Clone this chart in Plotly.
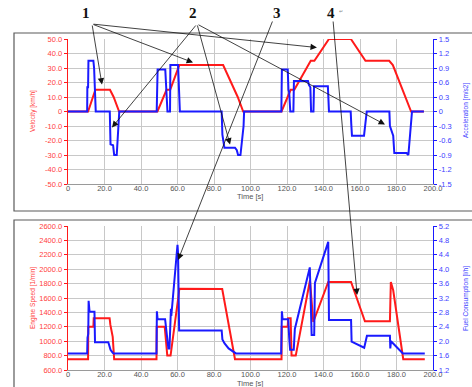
import plotly.graph_objects as go

W, H = 472, 387

# ---------------- data ----------------
# Top chart: vehicle velocity [km/h] and acceleration [m/s2]
vel_t = [0, 11, 15, 23, 25, 28, 49, 54, 56, 61, 85, 93, 96, 117, 122, 124, 133, 135, 143, 155, 163, 176, 178, 188, 195]
vel = [0, 0, 15, 15, 10, 0, 0, 15, 15, 32, 32, 10, 0, 0, 15, 15, 35, 35, 50, 50, 35, 35, 32, 0, 0]

acc_t = [0, 10.5, 10.6, 11.0, 11.2, 13.9, 14.3, 14.8, 15.2,
         22.9, 23.1, 23.3, 24.7, 25.3, 26.7, 27.3, 28.1,
         48.6, 48.8, 49.1, 53.3, 53.6, 54.2, 54.5,
         55.9, 56.1, 60.3, 60.6, 61.3,
         84.2, 84.6, 85.7, 91.5, 92.5, 93.2, 94.5, 95.5, 96.2, 96.5,
         116.9, 117.2, 120.4, 120.8, 121.2, 121.8, 123.5, 123.8, 131.5, 132.0, 132.8, 133.2,
         134.5, 134.8, 142.4, 143.0,
         154.9, 155.2, 155.6, 162.2, 163.0, 163.7,
         176.1, 176.4, 178.2, 178.8, 185.5, 186.5, 187.5, 188.5, 195.0]
acc = [0, 0, 0.5, 0.5, 1.05, 1.05, 0.9, 0.4, 0,
       0, -0.3, -0.68, -0.7, -0.9, -0.9, -0.45, 0,
       0, 0.84, 0.87, 0.87, 0.6, 0.3, 0,
       0, 0.96, 0.96, 0.5, 0,
       0, -0.48, -0.75, -0.75, -0.8, -0.9, -0.9, -0.5, -0.3, 0,
       0, 0.87, 0.87, 0.45, 0.4, 0, 0, 0.63, 0.63, 0.55, 0.5, 0,
       0, 0.52, 0.52, 0,
       0, -0.25, -0.5, -0.5, -0.25, 0,
       0, -0.3, -0.5, -0.86, -0.86, -0.9, -0.45, 0, 0]

# Bottom chart: engine speed [1/min] and fuel consumption [l/h]
eng_t = [0, 11.0, 11.1, 13.9, 14.1, 22.8, 23.2, 24.5, 25.3, 48.5,
         48.6, 53.0, 54.4, 56.2, 60.6, 61.0, 84.5, 88.5, 91.5, 117.0,
         117.1, 120.4, 120.6, 122.0, 122.5, 124.8, 132.6, 134.4, 142.6, 155.1,
         162.7, 176.4, 176.9, 178.2, 183.7, 195.5]
eng = [750, 750, 1200, 1200, 1320, 1320, 1230, 1060, 750, 750,
       1200, 1200, 800, 800, 1640, 1730, 1725, 1170, 750, 750,
       1200, 1200, 1320, 1320, 800, 800, 1846, 1267, 1822, 1822,
       1276, 1276, 1822, 1707, 750, 750]

fuel_t = [0, 10.5, 10.7, 11.1, 11.3, 11.8, 14.5, 14.8, 22.1, 22.6,
          23.3, 24.5, 25.0, 48.5, 48.7, 49.1, 53.2, 55.0, 55.6, 56.4,
          56.6, 60.0, 60.3, 60.9, 84.2, 84.6, 85.8, 88.0, 91.0, 92.0,
          116.8, 117.2, 117.6, 120.7, 121.2, 121.7, 123.7, 124.3, 132.5, 133.5,
          134.9, 135.3, 142.6, 143.0, 155.1, 155.4, 162.3, 163.8, 176.4, 176.6,
          177.0, 182.5, 183.5, 195.5]
fuel = [1.66, 1.66, 2.1, 2.2, 3.12, 2.82, 2.82, 1.97, 1.97, 1.85,
        1.76, 1.68, 1.66, 1.66, 2.83, 2.61, 2.61, 1.80, 1.80, 2.9,
        2.7, 4.68, 4.45, 2.30, 2.30, 2.05, 1.94, 1.80, 1.70, 1.66,
        1.66, 2.83, 2.61, 2.61, 2.1, 1.76, 1.76, 2.34, 4.05, 2.17,
        2.17, 3.62, 4.76, 2.59, 2.59, 1.99, 1.82, 2.15, 2.15, 1.80,
        2.00, 1.72, 1.66, 1.66]

# Tick labels
x_ticks = [0, 20, 40, 60, 80, 100, 120, 140, 160, 180, 200]
x_labels = ["0", "20.0", "40.0", "60.0", "80.0", "100.0", "120.0", "140.0", "160.0", "180.0", "200.0"]
vel_ticks = [50, 40, 30, 20, 10, 0, -10, -20, -30, -40, -50]
vel_labels = ["50.0", "40.0", "30.0", "20.0", "10.0", "0", "-10.0", "-20.0", "-30.0", "-40.0", "-50.0"]
acc_ticks = [1.5, 1.2, 0.9, 0.6, 0.3, 0, -0.3, -0.6, -0.9, -1.2, -1.5]
acc_labels = ["1.5", "1.2", "0.9", "0.6", "0.3", "0", "-0.3", "-0.6", "-0.9", "-1.2", "-1.5"]
eng_ticks = [2600, 2400, 2200, 2000, 1800, 1600, 1400, 1200, 1000, 800, 600]
eng_labels = ["2600.0", "2400.0", "2200.0", "2000.0", "1800.0", "1600.0", "1400.0", "1200.0", "1000.0", "800.0", "600.0"]
fuel_ticks = [5.2, 4.8, 4.4, 4.0, 3.6, 3.2, 2.8, 2.4, 2.0, 1.6, 1.2]
fuel_labels = ["5.2", "4.8", "4.4", "4.0", "3.6", "3.2", "2.8", "2.4", "2.0", "1.6", "1.2"]

RED = "#ff1a1a"
BLUE = "#1a1aff"
RED_T = "#ff4040"
BLUE_T = "#4040ff"
GRID = "#c8c8c8"
FONT = "Liberation Sans"


def px(x):
    return x / W


def py(y):
    return 1 - y / H


fig = go.Figure()
fig.add_trace(go.Scatter(x=vel_t, y=vel, xaxis="x", yaxis="y", mode="lines",
                         line=dict(color=RED, width=2)))
fig.add_trace(go.Scatter(x=acc_t, y=acc, xaxis="x", yaxis="y3", mode="lines",
                         line=dict(color=BLUE, width=2)))
fig.add_trace(go.Scatter(x=eng_t, y=eng, xaxis="x2", yaxis="y2", mode="lines",
                         line=dict(color=RED, width=2)))
fig.add_trace(go.Scatter(x=fuel_t, y=fuel, xaxis="x2", yaxis="y4", mode="lines",
                         line=dict(color=BLUE, width=2)))

xdom = [px(68), px(433)]
top_dom = [py(184), py(39)]
bot_dom = [py(370), py(226)]


def xaxis(anchor):
    return dict(domain=xdom, range=[0, 200], anchor=anchor, tickmode="array",
                tickvals=x_ticks, ticktext=x_labels, showgrid=True, gridcolor=GRID,
                gridwidth=1, showline=True, linecolor="#9a9a9a", linewidth=1,
                ticks="", ticklen=0, ticklabelstandoff=-3, zeroline=False,
                tickfont=dict(family=FONT, size=7.5, color="#555"),
                automargin=False, fixedrange=True)


def yleft(dom, rng, tv, tt):
    return dict(domain=dom, range=rng, anchor=None, tickmode="array", tickvals=tv,
                ticktext=tt, showgrid=True, gridcolor=GRID, gridwidth=1, showline=True,
                linecolor=RED, linewidth=1.3, ticks="outside", ticklen=3, tickcolor=RED,
                tickwidth=1, zeroline=False, tickfont=dict(family=FONT, size=7.5, color=RED_T),
                automargin=False, fixedrange=True)


def yright(over, rng, tv, tt, anchor):
    return dict(overlaying=over, side="right", anchor=anchor, range=rng, tickmode="array",
                tickvals=tv, ticktext=tt, showgrid=False, showline=True, linecolor=BLUE,
                linewidth=1.3, ticks="outside", ticklen=3, tickcolor=BLUE, tickwidth=1,
                zeroline=False, tickfont=dict(family=FONT, size=7.5, color=BLUE_T),
                automargin=False, fixedrange=True)


ya = yleft(top_dom, [-50, 50], vel_ticks, vel_labels)
ya["anchor"] = "x"
yb = yleft(bot_dom, [600, 2600], eng_ticks, eng_labels)
yb["anchor"] = "x2"

annotations = []
# axis titles
titles = [
    ("Velocity [km/h]", 33, 111, RED_T),
    ("Acceleration [m/s2]", 466, 111, BLUE_T),
    ("Engine Speed [1/min]", 33, 298, RED_T),
    ("Fuel Consumption [l/h]", 466, 299, BLUE_T),
]
for txt, x, y, c in titles:
    annotations.append(dict(text=txt, x=px(x), y=py(y), xref="paper", yref="paper",
                            showarrow=False, textangle=-90, xanchor="center", yanchor="middle",
                            font=dict(family=FONT, size=6.5, color=c)))
for y in (196.5, 383.5):
    annotations.append(dict(text="Time [s]", x=px(250), y=py(y), xref="paper", yref="paper",
                            showarrow=False, xanchor="center", yanchor="middle",
                            font=dict(family=FONT, size=7.5, color="#555")))

# numbered callouts
for lab, x in (("1", 86), ("2", 193), ("3", 277), ("4", 331)):
    annotations.append(dict(text="<b>%s</b>" % lab, x=px(x), y=py(13.5), xref="paper",
                            yref="paper", showarrow=False, xanchor="center", yanchor="middle",
                            font=dict(family="Liberation Serif", size=15, color="#111")))
annotations.append(dict(text="\u21b5", x=px(341), y=py(11), xref="paper", yref="paper",
                        showarrow=False, xanchor="center", yanchor="middle",
                        font=dict(family="DejaVu Sans", size=5, color="#888")))

# arrows: (head x, head y, xref, yref, tail px, tail py)
arrows = [
    (18.6, 18.6, "x", "y", 92, 24),
    (68.5, 33.8, "x", "y", 92, 24),
    (136.4, 44.1, "x", "y", 92, 24),
    (24.1, -11.0, "x", "y", 197, 24),
    (88.8, -22.8, "x", "y", 197, 24),
    (173.7, -9.0, "x", "y", 197, 24),
    (60.3, 2128, "x2", "y2", 273, 20),
    (158.4, 1642, "x2", "y2", 333, 20),
]
for hx, hy, xr, yr, tx, ty in arrows:
    hpx = 68 + hx * 365 / 200
    if yr == "y":
        hpy = 39 + (50 - hy) * 145 / 100
    else:
        hpy = 226 + (2600 - hy) * 144 / 2000
    annotations.append(dict(text="", x=hx, y=hy, xref=xr, yref=yr, ax=tx - hpx, ay=ty - hpy,
                            axref="pixel", ayref="pixel", showarrow=True, arrowhead=2,
                            arrowsize=1.6, arrowwidth=0.8, arrowcolor="#111", standoff=0,
                            startstandoff=0))

shapes = [
    dict(type="rect", xref="paper", yref="paper", x0=px(14), x1=px(476), y0=py(211), y1=py(33),
         line=dict(color="#5a5a5a", width=1.2), layer="below"),
    dict(type="rect", xref="paper", yref="paper", x0=px(14), x1=px(476), y0=py(392), y1=py(220),
         line=dict(color="#5a5a5a", width=1.2), layer="below"),
]

fig.update_layout(
    template="none",
    width=W, height=H,
    margin=dict(l=0, r=0, t=0, b=0, pad=0),
    paper_bgcolor="white", plot_bgcolor="white",
    showlegend=False,
    hovermode=False,
    xaxis=xaxis("y"),
    xaxis2=xaxis("y2"),
    yaxis=ya,
    yaxis2=yb,
    yaxis3=yright("y", [-1.5, 1.5], acc_ticks, acc_labels, "x"),
    yaxis4=yright("y2", [1.2, 5.2], fuel_ticks, fuel_labels, "x2"),
    annotations=annotations,
    shapes=shapes,
)

fig.write_html("out.html", config={"displayModeBar": False, "staticPlot": True},
               post_script="document.body.style.margin='0px';document.body.style.overflow='hidden';")
